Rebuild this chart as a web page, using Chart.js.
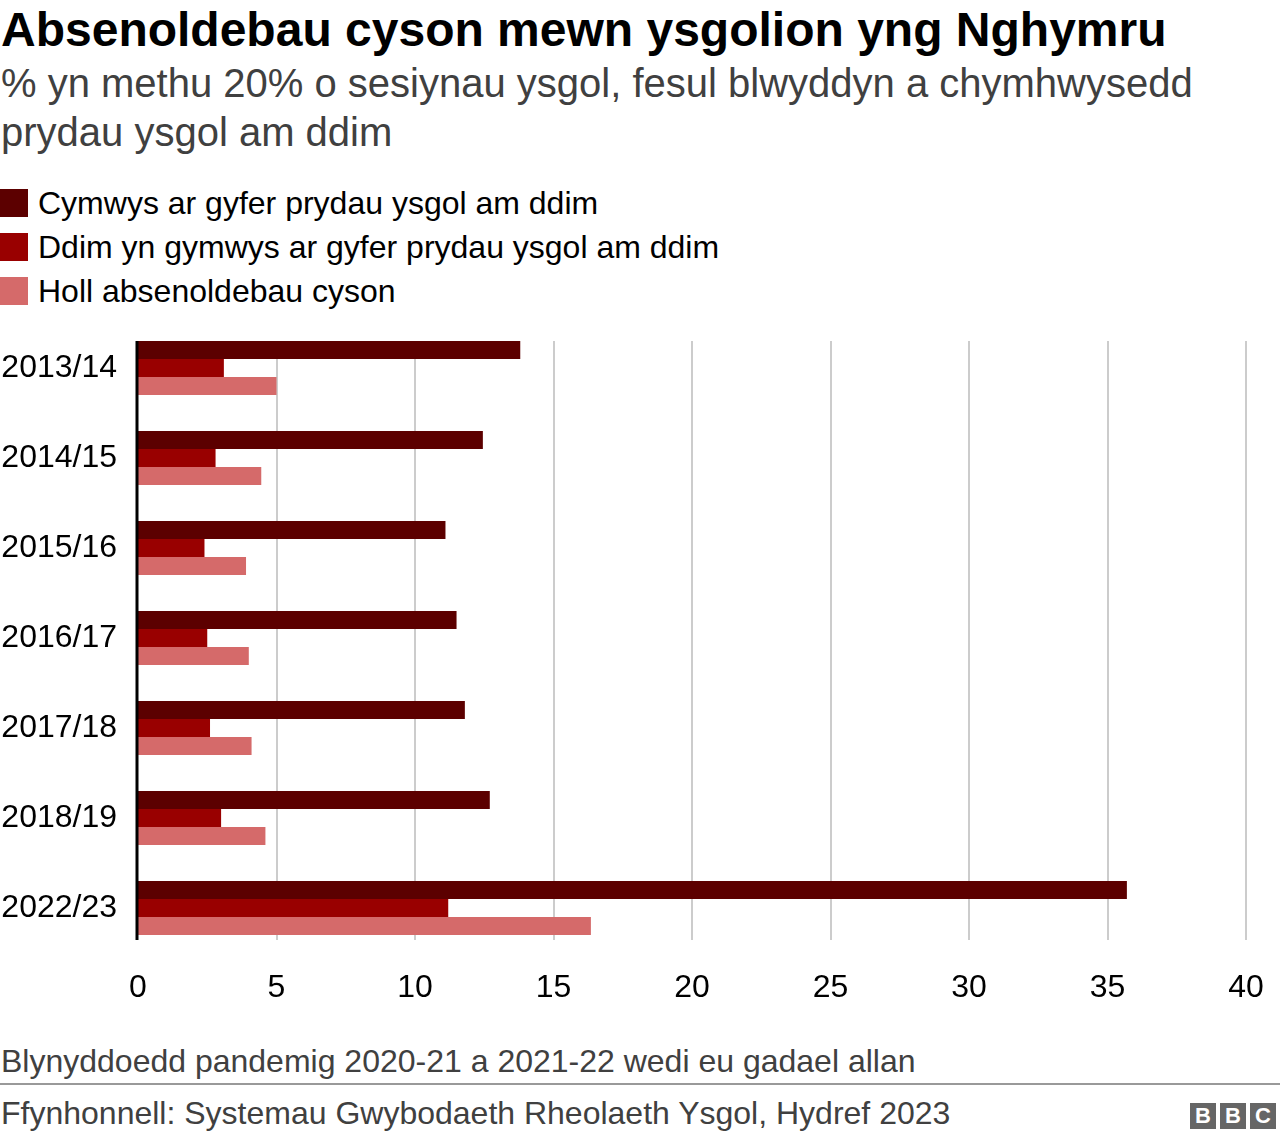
<!DOCTYPE html>
<html>
<head>
<meta charset="utf-8">
<script src="https://cdn.jsdelivr.net/npm/chart.js@4.4.1/dist/chart.umd.min.js"></script>
<style>
  html, body { margin: 0; padding: 0; background: #fff; }
  body { width: 1280px; height: 1140px; position: relative; overflow: hidden; font-family: "Liberation Sans", Arial, Helvetica, sans-serif; }
  #title { position: absolute; left: 1px; top: 2px; font-size: 48px; line-height: 55px; font-weight: bold; color: #000; white-space: nowrap; }
  #subtitle { position: absolute; left: 1px; top: 59px; font-size: 40px; line-height: 49px; color: #404040; white-space: nowrap; }
  #legend { position: absolute; left: 0; top: 181px; }
  .li { height: 44px; display: flex; align-items: center; font-size: 32px; color: #000; }
  .sw { width: 28px; height: 28px; margin-right: 10px; flex: none; }
  #wrap { position: absolute; left: 0; top: 270px; width: 1280px; height: 750px; }
  #note { position: absolute; left: 1px; top: 1043px; font-size: 32px; line-height: 37px; color: #404040; white-space: nowrap; }
  #rule { position: absolute; left: 0; top: 1083px; width: 1280px; height: 2px; background: #999; }
  #source { position: absolute; left: 1px; top: 1095px; font-size: 32px; line-height: 37px; color: #404040; white-space: nowrap; }
  #bbc { position: absolute; left: 1190px; top: 1103px; display: flex; gap: 4px; }
  #bbc span { width: 26px; height: 26px; background: #666; color: #fff; font-weight: bold; font-size: 22px; display: flex; align-items: center; justify-content: center; }
</style>
</head>
<body>
<div id="title">Absenoldebau cyson mewn ysgolion yng Nghymru</div>
<div id="subtitle">% yn methu 20% o sesiynau ysgol, fesul blwyddyn a chymhwysedd<br>prydau ysgol am ddim</div>
<div id="legend"></div>
<div id="wrap"><canvas id="c"></canvas></div>
<div id="note">Blynyddoedd pandemig 2020-21 a 2021-22 wedi eu gadael allan</div>
<div id="rule"></div>
<div id="source">Ffynhonnell: Systemau Gwybodaeth Rheolaeth Ysgol, Hydref 2023</div>
<div id="bbc"><span>B</span><span>B</span><span>C</span></div>
<script>
const categories = ["2013/14", "2014/15", "2015/16", "2016/17", "2017/18", "2018/19", "2022/23"];
const seriesNames = ["Cymwys ar gyfer prydau ysgol am ddim", "Ddim yn gymwys ar gyfer prydau ysgol am ddim", "Holl absenoldebau cyson"];
const eligible = [13.8, 12.45, 11.1, 11.5, 11.8, 12.7, 35.7];
const notEligible = [3.1, 2.8, 2.4, 2.5, 2.6, 3.0, 11.2];
const allPersistent = [5.0, 4.45, 3.9, 4.0, 4.1, 4.6, 16.35];
const xTicks = [0, 5, 10, 15, 20, 25, 30, 35, 40];
const colors = ["#5c0000", "#990000", "#d56a6a"];

const leg = document.getElementById('legend');
seriesNames.forEach((n, i) => {
  const d = document.createElement('div'); d.className = 'li';
  const s = document.createElement('div'); s.className = 'sw'; s.style.background = colors[i];
  const t = document.createElement('span'); t.textContent = n;
  d.appendChild(s); d.appendChild(t); leg.appendChild(d);
});

const gridPlugin = {
  id: 'customGrid',
  beforeDatasetsDraw(chart) {
    const ctx = chart.ctx, x = chart.scales.x, a = chart.chartArea;
    const top = a.top + 18, bottom = a.bottom - 13;
    ctx.save();
    ctx.strokeStyle = '#cccccc'; ctx.lineWidth = 2;
    xTicks.forEach(v => {
      if (v === 0) return;
      const px = Math.round(x.getPixelForValue(v));
      ctx.beginPath(); ctx.moveTo(px, top); ctx.lineTo(px, bottom); ctx.stroke();
    });
    ctx.restore();
  },
  afterDatasetsDraw(chart) {
    const ctx = chart.ctx, x = chart.scales.x, a = chart.chartArea;
    const top = a.top + 18, bottom = a.bottom - 13;
    ctx.save();
    ctx.strokeStyle = '#000'; ctx.lineWidth = 3;
    const px = x.getPixelForValue(0) - 1;
    ctx.beginPath(); ctx.moveTo(px, top); ctx.lineTo(px, bottom); ctx.stroke();
    ctx.restore();
  }
};

new Chart(document.getElementById('c'), {
  type: 'bar',
  data: {
    labels: categories,
    datasets: [
      { label: seriesNames[0], data: eligible, backgroundColor: colors[0] },
      { label: seriesNames[1], data: notEligible, backgroundColor: colors[1] },
      { label: seriesNames[2], data: allPersistent, backgroundColor: colors[2] }
    ]
  },
  options: {
    indexAxis: 'y',
    responsive: true,
    maintainAspectRatio: false,
    animation: false,
    layout: { padding: { top: 53, right: 34, left: 0, bottom: 0 } },
    datasets: { bar: { categoryPercentage: 0.6, barPercentage: 1.0, borderWidth: 0 } },
    plugins: { legend: { display: false }, tooltip: { enabled: false } },
    scales: {
      x: {
        min: 0, max: 40,
        afterBuildTicks(s) { s.ticks = xTicks.map(v => ({ value: v })); },
        grid: { display: false, drawTicks: false },
        border: { display: false },
        ticks: { color: '#000', font: { size: 32, family: '"Liberation Sans", Arial, sans-serif' }, padding: 16, maxRotation: 0 },
        afterFit(s) { s.height = 67; }
      },
      y: {
        grid: { display: false, drawTicks: false },
        border: { display: false },
        ticks: { color: '#000', font: { size: 32, family: '"Liberation Sans", Arial, sans-serif' }, padding: 21 },
        afterFit(s) { s.width = 138; }
      }
    }
  },
  plugins: [gridPlugin]
});
</script>
</body>
</html>
